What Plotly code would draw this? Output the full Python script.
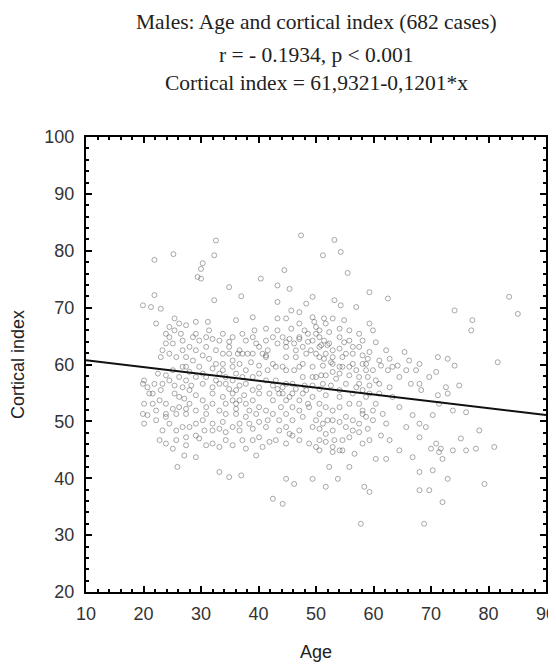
import plotly.graph_objects as go

# Scatter data (age, cortical index)
age = [47.4, 53.2, 32.6, 32.3, 25.2, 21.9, 51.2, 54.3, 30.3, 30.0, 29.4, 30.0, 44.5, 55.5, 43.3, 34.9, 40.4, 37.0, 45.4, 59.3,
       62.5, 21.9, 19.9, 21.3, 23.0, 32.3, 49.4, 48.3, 53.2, 54.3, 57.0, 43.3, 74.1, 85.1, 83.6, 77.2, 77.0, 25.4, 22.2, 27.4,
       29.1, 31.2, 39.0, 43.3, 45.7, 47.1, 49.7, 52.9, 54.9, 59.3, 59.9, 36.1, 41.3, 39.3, 25.4, 23.9, 26.5, 45.7, 48.6, 50.6,
       52.3, 54.1, 44.2, 45.4, 47.1, 49.4, 51.4, 55.8, 57.5, 60.4, 32.0, 33.2, 29.7, 28.0, 30.9, 34.9, 37.2, 23.3, 23.0, 26.8,
       27.4, 30.3, 31.4, 34.9, 36.4, 38.1, 40.7, 41.3, 44.8, 46.5, 48.6, 50.6, 52.0, 54.1, 55.2, 51.7, 50.6, 52.9, 54.6, 44.8,
       46.5, 58.1, 59.3, 65.4, 71.2, 72.9, 74.1, 81.6, 64.2, 61.3, 62.5, 67.4, 70.9, 56.4, 58.1, 54.6, 52.9, 51.2, 49.4, 47.1,
       44.2, 43.0, 40.1, 38.7, 35.5, 33.8, 32.0, 29.7, 27.4, 28.0, 30.3, 33.2, 36.1, 39.0, 23.9, 23.3, 19.9, 20.7, 21.9, 25.4,
       26.8, 28.3, 30.3, 32.0, 34.3, 34.9, 36.7, 42.5, 44.2, 45.9, 47.7, 50.0, 51.7, 53.5, 55.2, 57.5, 59.3, 50.6, 48.3, 45.9,
       43.6, 44.8, 47.1, 49.4, 51.7, 54.1, 56.4, 58.7, 61.0, 63.3, 66.5, 68.3, 71.2, 72.9, 74.9, 64.5, 66.8, 70.3, 68.0, 69.1,
       76.1, 78.4, 75.2, 77.8, 81.0, 70.0, 71.7, 72.0, 71.4, 72.9, 79.3, 68.0, 69.7, 68.0, 72.0, 68.8, 57.8, 42.5, 44.2, 33.2,
       34.9, 37.0, 25.9, 27.1, 29.1, 44.8, 46.2, 49.4, 51.7, 53.8, 55.8, 58.4, 59.3, 52.3, 62.2, 60.4, 56.7, 50.6, 52.9, 50.0,
       51.7, 53.2, 54.6, 58.1, 59.3, 61.3, 57.5, 56.4, 59.0, 54.1, 52.0, 50.6, 49.4, 47.1, 45.4, 43.6, 41.9, 39.0, 37.8, 39.6,
       35.5, 33.2, 30.9, 25.7, 22.8, 25.1, 20.1, 20.7, 23.9, 25.7, 27.4, 30.3, 32.0, 33.8, 36.7, 40.1, 41.3, 25.7, 28.0, 30.6,
       34.3, 20.1, 22.2, 23.9, 26.2, 27.1, 29.1, 32.0, 33.2, 35.5, 36.1, 37.8, 40.1, 39.6, 42.5, 44.8, 47.1, 48.8, 50.6, 52.9,
       55.2, 58.1, 58.7, 45.9, 43.6, 37.5, 40.1, 35.5,
       42.5, 43.3, 41.6, 48.0, 50.0, 50.6, 50.9, 54.1, 52.9, 54.9, 56.4, 57.5, 59.0, 44.8, 46.2, 47.7, 49.4, 50.9, 52.9, 54.1,
       55.8, 57.5, 59.0, 58.7, 43.0, 41.3, 40.1, 44.2, 45.4, 47.7, 48.6, 50.6, 51.7, 54.1, 55.8, 57.5, 55.2, 52.9, 51.7, 52.9,
       54.1, 44.8, 45.9, 43.0, 39.0, 36.7, 32.0, 27.4, 29.1, 24.5, 23.9, 25.1, 27.4, 29.1, 30.9, 34.3, 36.1, 37.8, 32.0, 30.3,
       33.8, 25.4, 23.0, 21.6, 28.0, 36.1, 33.2, 29.1, 26.2, 25.1, 34.3, 37.2, 35.5, 33.8, 32.6, 29.1, 25.1, 23.9, 24.5, 26.8,
       28.6, 30.9, 34.9, 36.7, 39.0, 39.6, 39.0, 41.3, 37.2, 47.1, 50.0, 51.7, 55.8, 62.2, 63.3, 64.5, 65.7, 68.0, 69.7, 72.6,
       71.4, 73.8, 68.0, 70.9, 73.8, 76.1, 66.8, 70.3, 64.5, 62.8, 65.7, 61.6, 62.2, 60.4, 61.0, 62.8,
       43.3, 44.8, 46.2, 47.7, 49.1, 50.0, 51.4, 52.6, 54.1, 55.8, 57.0, 59.9, 60.4, 59.3, 58.1, 57.0, 54.1, 52.6, 51.2, 49.4,
       48.0, 46.5, 44.8, 43.3, 41.9, 42.5, 43.9, 45.9, 47.7, 50.0, 51.2, 52.9, 56.4, 57.5, 58.1, 59.9, 59.9, 55.8, 54.6, 50.6,
       48.8, 47.1, 44.8, 40.1, 40.7, 37.2, 34.3, 32.0, 29.7, 27.4, 23.9, 23.3, 22.2, 19.9, 21.6, 22.8, 21.0, 20.1, 22.5, 24.5,
       27.4, 30.9, 32.6, 35.5, 37.8, 39.0, 39.0, 36.7, 34.3, 30.9, 28.0, 26.2, 36.1, 38.4, 41.3, 41.6, 38.4, 35.5, 33.2, 29.1,
       26.8, 26.8, 25.7, 24.5, 28.6, 32.6, 33.8, 36.7, 37.8, 40.1, 41.6, 42.5, 41.3, 40.1, 37.8, 35.5, 33.8, 31.4, 29.1, 26.2,
       24.5, 49.4, 51.4, 44.8, 47.1, 48.3, 52.3, 56.4, 58.1, 58.7, 61.0, 62.8, 66.2, 68.0]
cortical_index = [82.7, 81.9, 81.8, 79.2, 79.4, 78.4, 79.2, 79.8, 77.8, 76.8, 75.4, 75.1, 76.6, 76.1, 73.9, 73.6, 75.1, 72.0, 73.3, 72.7,
       71.6, 72.2, 70.4, 70.1, 69.8, 71.3, 71.9, 70.7, 71.3, 70.4, 70.1, 71.0, 69.5, 68.9, 71.9, 67.8, 66.0, 68.1, 67.2, 66.9,
       67.5, 67.5, 68.3, 68.1, 69.5, 69.2, 67.5, 68.1, 67.8, 67.2, 66.0, 67.8, 66.3, 66.0, 66.0, 65.4, 65.4, 66.3, 65.4, 66.0,
       65.7, 66.3, 64.8, 64.5, 64.5, 64.2, 64.2, 64.2, 65.4, 63.9, 64.5, 64.2, 64.2, 63.1, 63.1, 63.1, 61.9, 62.5, 61.3, 62.5,
       61.3, 61.6, 61.0, 61.9, 61.9, 61.9, 61.9, 61.6, 63.1, 62.5, 64.0, 63.1, 63.4, 62.8, 61.9, 61.9, 61.3, 61.3, 61.3, 61.3,
       61.3, 61.6, 62.2, 62.2, 61.3, 61.0, 59.8, 60.4, 59.8, 59.8, 59.0, 59.0, 58.7, 60.1, 60.1, 59.6, 60.1, 59.8, 59.6, 59.6,
       59.6, 59.6, 59.8, 60.4, 59.6, 59.0, 59.3, 59.6, 59.6, 58.7, 58.4, 58.4, 58.4, 57.8, 58.1, 56.6, 56.6, 56.0, 56.6, 56.3,
       56.0, 56.3, 56.6, 56.0, 56.6, 55.7, 56.3, 56.3, 56.0, 56.6, 57.8, 57.8, 58.1, 57.5, 56.6, 56.6, 56.3, 55.7, 55.5, 54.9,
       54.9, 53.7, 53.7, 54.3, 54.6, 54.3, 54.9, 54.3, 54.9, 54.3, 56.6, 55.5, 54.6, 54.9, 56.3, 52.5, 51.1, 51.1, 49.6, 49.0,
       51.6, 48.4, 47.0, 45.2, 45.5, 45.2, 45.2, 43.4, 44.6, 39.9, 39.0, 41.1, 37.9, 37.9, 35.8, 32.0, 32.0, 36.4, 35.5, 41.1,
       40.2, 40.5, 42.0, 44.0, 43.7, 39.9, 39.0, 39.9, 38.5, 39.9, 42.0, 38.5, 37.6, 42.0, 43.4, 43.4, 44.3, 44.9, 44.6, 45.5,
       46.4, 46.7, 44.9, 46.1, 46.7, 47.5, 48.1, 48.4, 48.7, 49.9, 50.2, 48.7, 49.0, 48.4, 47.8, 48.4, 46.4, 46.7, 45.2, 44.0,
       45.8, 45.5, 45.8, 46.7, 46.7, 45.2, 49.6, 51.1, 50.8, 51.3, 51.3, 50.2, 49.6, 49.9, 49.6, 49.9, 49.0, 48.4, 49.0, 48.4,
       48.1, 53.1, 51.9, 53.1, 54.3, 54.0, 54.6, 53.1, 51.9, 53.7, 53.1, 53.1, 52.5, 51.3, 51.3, 51.3, 51.9, 52.5, 51.3, 51.9,
       50.8, 51.9, 50.8, 50.2, 50.2, 54.6, 54.9, 54.9,
       64.8, 63.7, 62.5, 66.0, 65.4, 64.8, 63.4, 64.8, 62.5, 63.9, 61.9, 63.1, 61.0, 59.0, 59.0, 60.1, 57.8, 58.1, 58.7, 58.4,
       58.1, 57.8, 57.8, 59.0, 57.2, 57.2, 56.0, 54.9, 54.3, 54.9, 53.1, 53.1, 52.5, 52.5, 53.1, 53.1, 49.0, 48.4, 47.8, 45.5,
       44.9, 49.0, 47.5, 46.7, 48.7, 48.4, 48.4, 47.2, 47.5, 49.6, 51.3, 52.2, 52.2, 51.9, 51.3, 51.3, 51.3, 50.8, 54.9, 53.7,
       54.3, 54.9, 55.5, 54.9, 55.5, 55.5, 56.6, 57.8, 57.8, 59.0, 57.8, 57.8, 60.7, 61.9, 62.5, 62.5, 63.7, 63.7, 64.8, 64.2,
       64.8, 64.8, 64.0, 62.5, 61.9, 63.7, 64.8, 64.2, 65.4, 67.2, 66.6, 67.2, 66.0, 62.5, 59.6, 57.8, 59.0, 56.6, 57.8, 56.0,
       53.1, 51.9, 47.2, 46.1, 44.9, 44.9, 43.7, 41.4, 44.9, 46.7, 49.0, 51.3, 49.6, 53.1, 56.6, 56.0,
       66.0, 63.9, 63.7, 63.1, 62.5, 61.9, 61.0, 60.4, 59.6, 59.6, 59.0, 59.0, 57.2, 54.9, 55.5, 56.0, 55.5, 56.3, 56.6, 56.3,
       56.3, 55.7, 56.6, 55.7, 54.9, 53.7, 52.5, 52.5, 50.8, 50.2, 49.6, 50.2, 50.2, 49.6, 51.3, 51.9, 50.2, 47.2, 46.7, 46.7,
       46.1, 46.7, 46.1, 47.2, 45.5, 46.7, 46.7, 46.1, 47.0, 45.8, 46.1, 48.4, 50.2, 51.3, 53.1, 53.7, 54.9, 57.2, 58.4, 57.2,
       57.2, 57.8, 57.2, 57.2, 56.6, 55.5, 53.7, 53.7, 53.1, 52.5, 53.1, 52.5, 52.2, 51.9, 51.9, 50.2, 49.6, 49.0, 48.7, 49.6,
       49.0, 59.6, 61.3, 61.9, 60.7, 60.1, 60.1, 60.1, 59.0, 58.4, 59.0, 60.1, 61.3, 63.1, 64.2, 64.8, 65.4, 66.0, 65.4, 67.2,
       66.6, 68.3, 68.1, 68.1, 64.8, 61.9, 63.7, 63.1, 64.2, 60.1, 60.7, 61.0, 60.7, 60.1]

# Regression line from the chart's equation: Cortical index = 61.9321 - 0.1201*x
intercept = 61.9321
slope = -0.1201
line_x = [10, 90]
line_y = [intercept + slope * v for v in line_x]

title_lines = ["Males: Age and cortical index (682 cases)",
               "r = - 0.1934, p < 0.001",
               "Cortical index = 61,9321-0,1201*x"]

fig = go.Figure()
fig.add_trace(go.Scatter(
    x=age, y=cortical_index, mode="markers",
    marker=dict(symbol="circle-open", size=5, color="rgba(85,85,85,0.5)", line=dict(width=1)),
    hoverinfo="x+y", showlegend=False))
fig.add_trace(go.Scatter(
    x=line_x, y=line_y, mode="lines",
    line=dict(color="#111111", width=2), showlegend=False))

title_y = [1.2527, 1.1802, 1.1187]
for txt, yy in zip(title_lines, title_y):
    fig.add_annotation(text=txt, x=0.5, y=yy, xref="paper", yref="paper",
                       xanchor="center", yanchor="middle", showarrow=False,
                       font=dict(family="Liberation Serif, Times New Roman, serif", size=21.5, color="#222"))

axis_common = dict(
    showline=True, linewidth=2, linecolor="black", mirror="allticks",
    ticks="inside", ticklen=6, tickwidth=2, tickcolor="black",
    showgrid=False, zeroline=False, automargin=False, ticklabeloverflow="allow",
    tickfont=dict(family="Liberation Sans, Arial, sans-serif", size=18, color="#333"),
    minor=dict(ticks="inside", ticklen=3, tickwidth=1.5, tickcolor="black", dtick=2, showgrid=False),
)

fig.update_xaxes(range=[10, 90], dtick=10, tick0=10, ticklabelstandoff=4,
                 title=dict(text="Age", standoff=23,
                            font=dict(family="Liberation Sans, Arial, sans-serif", size=18, color="#222")),
                 **axis_common)
fig.update_yaxes(range=[20, 100], dtick=10, tick0=20, ticklabelstandoff=6,
                 title=dict(text="Cortical index", standoff=16,
                            font=dict(family="Liberation Sans, Arial, sans-serif", size=18, color="#222")),
                 **axis_common)

# the page body adds an 8px offset, so the figure is 8px smaller on each axis
fig.update_layout(
    width=548, height=657,
    margin=dict(l=78, r=10, t=129, b=73),
    plot_bgcolor="white", paper_bgcolor="white",
)

fig.write_html("out.html")
